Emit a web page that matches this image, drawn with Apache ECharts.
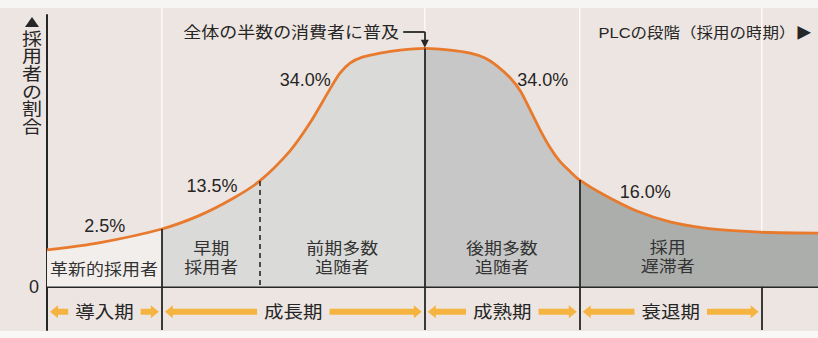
<!DOCTYPE html>
<html>
<head>
<meta charset="utf-8">
<script src="https://cdn.jsdelivr.net/npm/echarts@6/dist/echarts.min.js"></script>
<style>
  html, body { margin: 0; padding: 0; background: #ede5e1; }
  #chart { width: 818px; height: 338px; }
</style>
</head>
<body>
<div id="chart"></div>
<script>
// Adoption curve: position along the product life cycle (0-100) and level of adopters
const curveX = [0, 6.9, 14.9, 19.8, 24.1, 27.6, 31.5, 34.1, 36.7, 38.0, 39.3, 40.9, 43.2, 45.8, 49.0,
                52.3, 54.9, 56.8, 58.4, 60.1, 61.4, 62.6, 63.9, 65.2, 66.5, 67.8, 69.1,
                72.1, 76.5, 80.8, 85.1, 89.5, 93.8, 100];
const curveY = [13.5, 16.2, 21.2, 26.2, 32.4, 38.9, 49.9, 60.2, 72.7, 78.6, 82.3, 84.5, 86.0, 87.1, 87.7,
                87.1, 86.0, 84.2, 81.2, 76.8, 72.0, 65.4, 58.0, 51.4, 46.2, 42.5, 39.2,
                34.0, 27.8, 23.8, 21.6, 20.5, 19.9, 19.7];

// Adopter categories and their shares (%)
const segmentNames = ['革新的採用者', '早期\n採用者', '前期多数\n追随者', '後期多数\n追随者', '採用\n遅滞者'];
const segmentShares = [2.5, 13.5, 34.0, 34.0, 16.0];
const segmentBounds = [0, 14.9, 27.6, 49.0, 69.1, 100];

// PLC stages
const stageNames = ['導入期', '成長期', '成熟期', '衰退期'];
const stageBounds = [0, 14.9, 49.0, 69.1, 92.7];

// Label anchors (axis units)
const shareLabelPos = [[7.5, 22.4], [21.4, 37.1], [33.5, 76.1], [64.3, 76.1], [77.6, 34.9]];
const nameLabelPos = [[7.4, 6.3], [21.3, 10.3], [38.3, 10.3], [59.0, 10.3], [80.5, 10.7]];

const FONT = "'Liberation Sans', 'Noto Sans CJK JP', sans-serif";
const INK = '#262626';
const Y_MIN = -16, Y_MAX = 100, BAND_Y = -9.3;
const stageFills = ['#f2eeec', '#dadad8', '#c6c7c6', '#acaeac'];
const CJK_SCALE = 0.88;
const SMOOTH = 0.3;

const curveData = curveX.map((x, i) => [x, curveY[i]]);
const yAt = x => curveY[curveX.indexOf(x)];

function arrowShape(from, tip, y) {
  const dir = Math.sign(tip - from);
  const hl = 8, t = 3, h = 6.5;
  const base = tip - dir * hl;
  return {
    type: 'polygon',
    shape: { points: [[from, y - t], [base, y - t], [base, y - h], [tip, y], [base, y + h], [base, y + t], [from, y + t]] },
    style: { fill: '#f5b440' }
  };
}

const blackLine = { color: INK, width: 1.8, type: 'solid' };
const dividerLines = [
  [{ coord: [segmentBounds[1], yAt(segmentBounds[1])] }, { coord: [segmentBounds[1], Y_MIN] }],
  [{ coord: [segmentBounds[2], yAt(segmentBounds[2])], lineStyle: { color: INK, width: 1.6, type: [5, 4] } }, { coord: [segmentBounds[2], 0] }],
  [{ coord: [segmentBounds[3], yAt(segmentBounds[3])] }, { coord: [segmentBounds[3], Y_MIN] }],
  [{ coord: [segmentBounds[4], yAt(segmentBounds[4])] }, { coord: [segmentBounds[4], Y_MIN] }],
  [{ coord: [stageBounds[4], 0] }, { coord: [stageBounds[4], Y_MIN] }],
  // pointer from the "half of all consumers" note down to the peak
  [{ coord: [46.2, 93.8] }, { coord: [segmentBounds[3], 93.8] }],
  [{ coord: [segmentBounds[3], 93.8] }, { coord: [segmentBounds[3], 89.4], symbol: 'triangle', symbolSize: [8, 8] }]
];

const chart = echarts.init(document.getElementById('chart'), null, { renderer: 'svg', width: 818, height: 338 });

const option = {
  animation: false,
  backgroundColor: '#ede5e1',
  grid: { left: 47, right: 0, top: 15, bottom: 8 },
  xAxis: {
    type: 'value', min: 0, max: 100,
    axisLine: { show: true, onZero: true, lineStyle: { color: INK, width: 2 } },
    axisTick: { show: false }, axisLabel: { show: false }, splitLine: { show: false }
  },
  yAxis: {
    type: 'value', min: Y_MIN, max: Y_MAX, interval: 16,
    axisLine: { show: true, lineStyle: { color: INK, width: 2 } },
    axisTick: { show: false }, splitLine: { show: false },
    axisLabel: { formatter: v => (v === 0 ? '0' : ''), color: INK, fontSize: 18, fontFamily: FONT, margin: 8 }
  },
  visualMap: {
    type: 'piecewise', show: false, dimension: 0, seriesIndex: 1,
    pieces: stageFills.map((c, i) => (i < stageFills.length - 1
      ? { gte: stageBounds[i], lt: stageBounds[i + 1], color: c }
      : { gte: stageBounds[i], color: c }))
  },
  graphic: [
    { type: 'rect', silent: true, shape: { x: 0, y: 0, width: 818, height: 8 }, style: { fill: '#f7f5f4' } },
    { type: 'rect', silent: true, shape: { x: 0, y: 331, width: 818, height: 7 }, style: { fill: '#f9f8f7' } },
    { type: 'polygon', silent: true, shape: { points: [[25, 27], [39, 27], [32, 17]] }, style: { fill: INK } },
    { type: 'text', x: 32, y: 30, scaleY: CJK_SCALE,
      style: { text: '採\n用\n者\nの\n割\n合', fill: INK, fontSize: 20, lineHeight: 20, fontFamily: FONT, align: 'center', verticalAlign: 'top' } },
    { type: 'text', x: 399, y: 33, scaleY: CJK_SCALE,
      style: { text: '全体の半数の消費者に普及', fill: INK, fontSize: 18, fontFamily: FONT, align: 'right', verticalAlign: 'middle' } },
    { type: 'text', x: 812, y: 33, scaleY: CJK_SCALE,
      style: { text: 'PLCの段階（採用の時期）▶', fill: INK, fontSize: 16.5, fontFamily: FONT, align: 'right', verticalAlign: 'middle' } }
  ],
  series: [
    {
      // faint paper guide lines behind the curve
      type: 'custom', z: 1, silent: true,
      data: stageBounds.slice(1).map(b => [b, 0]),
      renderItem: (params, api) => {
        const top = api.coord([api.value(0), Y_MAX]);
        const bot = api.coord([api.value(0), 0]);
        return { type: 'line', shape: { x1: top[0], y1: top[1] - 7, x2: bot[0], y2: bot[1] },
                 style: { stroke: 'rgba(255,255,255,0.8)', lineWidth: 1.5 } };
      }
    },
    {
      // filled area under the curve, shaded by PLC stage
      type: 'line', z: 2, silent: true, data: curveData,
      smooth: SMOOTH, showSymbol: false,
      lineStyle: { width: 0 },
      areaStyle: { opacity: 1 }
    },
    {
      type: 'line', z: 4, silent: true, data: curveData,
      smooth: SMOOTH, showSymbol: false,
      lineStyle: { color: '#e87a2e', width: 2.8 },
      markLine: {
        silent: true, symbol: 'none', animation: false,
        label: { show: false },
        lineStyle: blackLine,
        emphasis: { disabled: true },
        data: dividerLines
      }
    },
    {
      // share of each adopter category
      type: 'custom', z: 5, silent: true,
      data: segmentShares.map((v, i) => [shareLabelPos[i][0], shareLabelPos[i][1], v]),
      renderItem: (params, api) => {
        const p = api.coord([api.value(0), api.value(1)]);
        return { type: 'text', x: p[0], y: p[1],
                 style: { text: api.value(2).toFixed(1) + '%', fill: INK, fontSize: 18, fontFamily: FONT, align: 'center', verticalAlign: 'middle' } };
      }
    },
    {
      // adopter category names
      type: 'custom', z: 5, silent: true,
      data: nameLabelPos.map(p => [p[0], p[1]]),
      renderItem: (params, api) => {
        const p = api.coord([api.value(0), api.value(1)]);
        return { type: 'text', x: p[0], y: p[1], scaleY: CJK_SCALE,
                 style: { text: segmentNames[params.dataIndex], fill: '#333', fontSize: 18, lineHeight: 22, fontFamily: FONT, align: 'center', verticalAlign: 'middle' } };
      }
    },
    {
      // PLC stage band with double arrows
      type: 'custom', z: 5, silent: true,
      data: stageNames.map((n, i) => [stageBounds[i], stageBounds[i + 1]]),
      renderItem: (params, api) => {
        const name = stageNames[params.dataIndex];
        const a = api.coord([api.value(0), BAND_Y]);
        const b = api.coord([api.value(1), BAND_Y]);
        const y = a[1];
        const cx = (a[0] + b[0]) / 2;
        const half = name.length * 19.5 / 2 + 7;
        return {
          type: 'group',
          children: [
            arrowShape(cx - half, a[0] + 3, y),
            arrowShape(cx + half, b[0] - 3, y),
            { type: 'text', x: cx, y: y, scaleY: CJK_SCALE,
              style: { text: name, fill: INK, fontSize: 19.5, fontFamily: FONT, align: 'center', verticalAlign: 'middle' } }
          ]
        };
      }
    }
  ]
};

chart.setOption(option);
</script>
</body>
</html>
